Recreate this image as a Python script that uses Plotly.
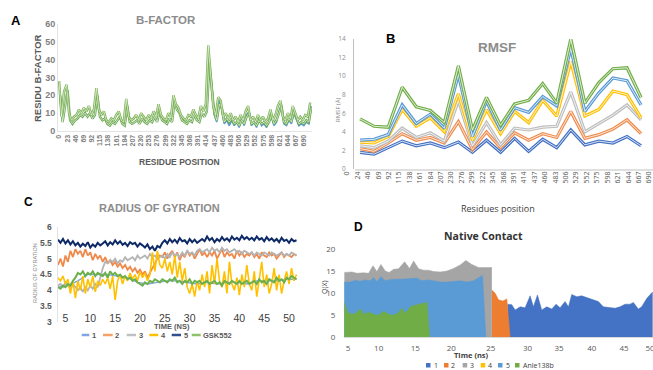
import numpy as np
import plotly.graph_objects as go

W, H = 653, 370
def px(x): return x / W
def py(y): return 1 - y / H

# ---------------- Panel A: B-factor ----------------
bf_res_a = list(range(0, 711, 7))
bf_green_a = [28,8,22,26,10,6,8,9,12,10, 13,11,14,9,12,24,12,9,11,6,
              5,7,6,9,11,6,5,18,8,6, 7,9,6,10,8,6,9,7,11,8,
              15,9,7,6,10,8,20,15,13,9, 7,6,9,8,12,9,7,14,11,15,
              48,30,14,9,19,17,8,10,7,10, 6,8,5,9,6,11,14,6,8,5,
              9,6,8,5,7,12,6,9,14,17, 8,6,10,7,14,10,6,8,6,9, 8,16]
bf_res_b = list(range(3, 711, 7))
bf_green_b = [20,5,14,23,6,4,6,7,9,8, 10,8,10,7,9,20,8,6,7,4,
              3,5,4,6,8,4,3,14,5,4, 5,6,4,7,5,4,6,5,8,5,
              11,6,5,4,7,5,16,12,10,6, 5,4,6,5,9,6,5,10,8,11,
              38,22,10,6,15,13,5,7,5,7, 4,5,3,6,4,8,10,4,5,3,
              6,4,5,3,5,9,4,6,10,14, 5,4,7,5,11,7,4,5,4,6, 5,13]
bf_res_blue = list(range(416, 712, 7))
bf_blue = [12,37,25,9,5,17,12,4,6,3, 6,3,5,2,7,3,9,11,3,5,
           2,7,3,4,2,5,8,3,5,11, 15,4,3,6,4,10,6,3,4,3, 5,4,14]
bf_ticks = list(range(0, 691, 23))

# ---------------- Panel B: RMSF ----------------
rmsf_pos = list(range(21))
rmsf_labels = ["0","24","46","69","92","115","138","161","184","207","230","276",
               "299","322","345","368","391","414","437","460","483","506","529",
               "552","575","598","621","644","667","690"]
rmsf_1 = [1.8,1.6,2.3,3.0,2.5,2.8,2.3,2.9,1.8,3.1,1.8,3.3,1.9,3.2,2.3,4.2,2.6,3.0,2.8,3.5,2.5]
rmsf_2 = [2.2,1.9,2.8,3.8,3.1,3.4,2.8,5.1,2.1,4.0,2.3,3.9,3.1,3.8,3.4,6.2,3.3,3.7,4.3,5.3,3.8]
rmsf_3 = [2.5,2.3,3.0,4.4,3.4,3.9,3.0,7.4,2.5,5.0,2.6,4.4,4.2,4.5,4.6,8.3,4.0,4.9,5.8,6.9,5.3]
rmsf_4 = [2.9,2.8,3.5,6.4,4.6,5.5,4.0,8.1,3.1,6.4,3.8,6.2,5.0,7.4,5.7,11.6,5.7,6.4,8.4,8.0,5.5]
rmsf_5 = [3.1,3.2,3.7,6.9,4.9,5.9,4.4,10.2,3.5,7.3,4.2,6.6,6.1,7.8,6.8,13.0,6.2,8.2,9.8,9.5,6.9]
rmsf_6 = [5.4,4.6,4.5,8.8,6.7,6.3,5.0,11.1,4.2,7.7,4.7,7.0,7.4,9.2,7.1,14.0,7.1,9.3,10.8,10.9,7.7]

# ---------------- Panel C: radius of gyration ----------------
rg_time = list(np.arange(3.5, 51.51, 0.5))
rg_time_1 = list(np.arange(3.5, 51.51, 2.0))
rg_1 = [4.1,4.15,4.3,4.5,4.5,4.5,4.45,4.4,4.25,4.2,4.25,4.3,4.3,4.25,4.2,4.25,4.2,
        4.25,4.25,4.2,4.3,4.3,4.3,4.35,4.35]
rg_2 = [4.8,5.0,4.75,5.1,4.9,5.25,5.05,5.3,
        5.15,5.25,5.05,5.3,5.1,5.2,4.95,5.15,5.0,5.1,
        4.9,5.05,4.85,4.95,4.8,4.9,4.75,4.85,4.7,4.8,4.65,4.75,4.6,4.7,4.55,4.65,
        4.5,4.6,4.4,4.55,4.7,4.9,5.0,5.1,
        5.05,5.2,5.0,5.15,5.25,5.05,5.2,4.95,5.15,5.05,5.25,5.1,5.2,5.0,5.15,5.3,5.1,5.2,
        5.05,5.2,5.1,5.25,5.0,5.15,5.3,5.05,5.2,5.1,5.15,5.0,5.25,5.1,5.2,5.05,5.15,5.1,
        5.2,5.05,5.15,5.0,5.2,5.1,5.05,5.2,5.1,5.15,5.0,5.1,5.2,5.05,5.15,5.1,5.05,5.15,5.1]
rg_3 = [4.15,4.2,4.1,4.25,4.15,4.05,4.2,4.1,
        4.0,4.1,3.95,4.1,4.0,4.15,4.05,4.2,4.1,4.4,
        4.7,4.9,4.85,4.95,4.9,5.0,4.85,4.95,4.9,5.05,4.95,5.0,5.05,4.95,5.1,5.0,
        5.05,5.1,5.0,5.15,5.05,5.1,5.0,5.05,
        5.1,5.0,5.15,5.05,5.2,5.1,5.15,5.05,5.2,5.1,5.25,5.15,5.2,5.1,5.25,5.3,5.2,5.25,
        5.3,5.2,5.35,5.25,5.3,5.2,5.35,5.25,5.3,5.2,5.25,5.3,5.2,5.25,5.15,5.25,5.2,5.15,
        5.2,5.1,5.2,5.15,5.1,5.2,5.15,5.1,5.2,5.15,5.1,5.15,5.2,5.1,5.15,5.1,5.2,5.15,5.1]
rg_4 = [4.4,4.3,4.45,4.2,4.35,3.9,4.3,3.75,
        4.3,4.0,4.45,3.9,4.35,4.1,4.45,3.95,4.3,4.15,
        4.35,4.2,4.4,4.05,4.45,3.7,4.3,4.5,4.2,4.45,4.3,4.55,4.35,4.5,4.3,4.6,
        4.4,4.55,4.3,4.5,5.2,4.6,5.25,4.8,
        4.7,5.0,4.6,4.9,4.5,5.1,4.4,4.9,4.3,4.7,4.1,3.9,4.2,3.8,4.3,4.0,4.5,4.1,
        4.6,3.9,4.8,4.2,5.0,4.3,4.1,4.6,3.9,4.9,4.2,4.0,4.4,3.85,4.5,4.1,4.8,4.2,
        4.0,4.6,3.8,4.4,4.9,4.1,4.5,3.9,4.2,4.7,4.0,4.5,3.9,4.3,4.6,4.2,4.7,4.3,4.5]
rg_5 = [5.6,5.5,5.62,5.48,5.58,5.45,5.55,5.42,
        5.5,5.38,5.47,5.4,5.52,5.35,5.45,5.38,5.5,5.42,
        5.48,5.55,5.42,5.52,5.45,5.58,5.47,5.55,5.44,5.5,5.4,5.52,5.46,5.5,5.38,5.48,
        5.42,5.35,5.45,5.3,5.38,5.25,5.4,5.35,
        5.5,5.58,5.48,5.62,5.52,5.6,5.5,5.65,5.55,5.58,5.48,5.62,5.52,5.6,5.5,5.56,5.62,5.55,
        5.7,5.58,5.65,5.52,5.62,5.55,5.68,5.58,5.64,5.55,5.7,5.6,5.66,5.58,5.72,5.62,5.68,5.6,
        5.66,5.58,5.7,5.6,5.65,5.55,5.68,5.58,5.64,5.55,5.62,5.52,5.66,5.56,5.6,5.5,5.62,5.55,5.58]
rg_gsk = [4.1,4.05,4.15,4.1,4.2,4.15,4.3,4.4,
          4.55,4.5,4.6,4.45,4.55,4.5,4.6,4.45,4.55,4.5,
          4.45,4.55,4.4,4.6,4.5,4.55,4.45,4.5,4.4,4.45,4.35,4.4,4.3,4.35,4.25,4.2,
          4.15,4.25,4.2,4.3,4.25,4.35,4.3,4.25,
          4.35,4.3,4.25,4.35,4.3,4.4,4.25,4.3,4.2,4.3,4.25,4.35,4.2,4.3,4.25,4.3,4.2,4.25,
          4.3,4.2,4.25,4.3,4.2,4.25,4.15,4.3,4.25,4.2,4.3,4.25,4.2,4.3,4.2,4.25,4.3,4.2,
          4.25,4.3,4.2,4.35,4.25,4.3,4.2,4.35,4.3,4.25,4.4,4.3,4.35,4.25,4.4,4.35,4.45,4.4,4.35]
rg_ticks = [5,10,15,20,25,30,35,40,45,50]

# ---------------- Panel D: native contact ----------------
nc_tick_pos = [5.0, 9.57, 15.03, 20.40, 26.31, 31.77, 36.49, 41.36, 46.18, 50.05]
nc_tick_text = ["5","10","15","20","25","30","35","40","45","50"]
nc3_x = [4.45,5.59,6.34,7.33,8.07,8.72,9.31,9.91,10.56,11.15,11.80,12.54,13.44,14.18,14.78,
         15.53,16.27,17.02,17.76,18.76,19.75,20.74,21.74,22.58,23.47,24.47,25.22,26.11,26.46]
nc3_y = [14.7,14.8,14.5,14.6,14.5,16.2,14.9,16.5,15.0,14.7,15.4,15.5,17.1,15.6,17.3,
         15.5,15.2,15.2,14.9,14.8,15.0,15.6,16.4,17.4,16.5,15.8,15.8,15.9,15.8]
nc5_x = [4.45,5.34,6.09,6.83,7.58,8.32,8.82,9.31,9.91,10.56,11.30,12.30,13.30,14.28,15.28,
         16.02,16.77,17.76,18.76,19.75,20.74,21.74,22.73,23.72,24.72,25.07,25.56]
nc5_y = [12.5,12.5,12.9,12.7,13.0,12.8,13.5,12.6,13.7,12.8,13.1,13.1,13.2,13.3,13.4,
         12.8,13.0,12.8,12.5,12.5,12.6,12.8,12.5,12.8,13.7,14.0,0]
ncA_x = [4.45,4.95,5.59,6.09,6.83,7.33,8.07,8.82,9.56,10.31,11.06,11.80,12.55,13.04,13.54,
         14.28,15.28,16.27,16.77,17.17]
ncA_y = [7.9,5.7,5.2,5.4,6.4,5.2,5.7,5.2,5.0,5.9,5.2,5.0,5.6,6.6,5.4,6.9,7.4,7.8,7.9,0]
nc2_x = [26.46,26.95,27.45,28.10,28.69,29.19]
nc2_y = [10.7,10.0,8.5,8.2,8.7,0]
nc1_x = [28.79,29.43,29.93,30.68,31.42,32.17,32.66,33.26,33.90,34.65,35.40,36.04,36.64,37.38,
         37.88,38.37,39.12,39.86,40.61,41.60,42.35,43.09,44.09,44.83,45.58,46.33,47.07,47.57,
         48.31,48.81,49.56,50.05,50.45]
nc1_y = [7.5,7.4,6.2,6.9,6.7,9.4,6.9,9.6,6.2,6.9,6.4,7.5,6.7,8.1,6.9,9.7,9.2,9.4,9.0,8.5,
         8.1,6.9,6.8,6.6,6.9,7.5,7.5,7.9,6.4,6.9,8.8,9.6,10.3]

C_BLUE, C_ORANGE, C_GRAY, C_YELLOW, C_LBLUE, C_GREEN, C_NAVY = (
    "#4472c4", "#ed7d31", "#a5a5a5", "#ffc000", "#5b9bd5", "#70ad47", "#1f3864")

fig = go.Figure()

def line(x, y, color, width, xa, ya):
    fig.add_trace(go.Scatter(x=x, y=y, mode="lines", line=dict(color=color, width=width),
                             xaxis=xa, yaxis=ya, showlegend=False, hoverinfo="skip"))

def dline(x, y, color, wo, wi, xa, ya):
    line(x, y, color, wo, xa, ya)
    line(x, y, "rgba(255,255,255,0.8)", wi, xa, ya)

# A
line(bf_res_blue, bf_blue, C_LBLUE, 1.6, "x", "y")
dline(bf_res_b, bf_green_b, "#6aa84f", 2.4, 0.8, "x", "y")
dline(bf_res_a, bf_green_a, "#78b050", 2.4, 0.8, "x", "y")

# B
for ys, c in [(rmsf_1, C_BLUE), (rmsf_2, "#f08c4e"), (rmsf_3, "#bdbdbd"),
              (rmsf_4, C_YELLOW), (rmsf_5, C_LBLUE), (rmsf_6, C_GREEN)]:
    dline(rmsf_pos, ys, c, 3.2, 1.0, "x2", "y2")

# C
line(rg_time_1, rg_1, "#7ea6e0", 1.4, "x3", "y3")
line(rg_time, rg_2, "#f0884a", 1.8, "x3", "y3")
line(rg_time, rg_3, "#b4b4b4", 1.8, "x3", "y3")
line(rg_time, rg_4, C_YELLOW, 1.6, "x3", "y3")
line(rg_time, rg_5, "#0d2a66", 2.0, "x3", "y3")
line(rg_time, rg_gsk, "#6cb04a", 2.0, "x3", "y3")

# D
def area(x, y, color):
    fig.add_trace(go.Scatter(x=x, y=y, mode="lines", fill="tozeroy", fillcolor=color,
                             line=dict(color=color, width=0.5), xaxis="x4", yaxis="y4",
                             showlegend=False, hoverinfo="skip"))
area(nc1_x, nc1_y, C_BLUE)
area(nc2_x, nc2_y, C_ORANGE)
area(nc3_x, nc3_y, C_GRAY)
area(nc5_x, nc5_y, C_LBLUE)
area(ncA_x, ncA_y, C_GREEN)

SANS = "Liberation Sans"
SOFT = "Open Sans"

def f(size, color, bold=False, family=SANS):
    d = dict(family=family, size=size, color=color)
    if bold:
        d["weight"] = "bold"
    return d

base_ax = dict(showgrid=False, zeroline=False, ticks="", automargin=False)

fig.update_layout(
    width=W, height=H, margin=dict(l=0, r=0, t=0, b=0, pad=0, autoexpand=False),
    paper_bgcolor="white", plot_bgcolor="rgba(0,0,0,0)", showlegend=False,
    xaxis=dict(base_ax, domain=[px(58), px(312)], range=[-3, 712], anchor="y",
               tickvals=bf_ticks, tickangle=-90, tickfont=f(7, "#7f7f7f", True),
               showline=True, linecolor="#e3e3e3"),
    yaxis=dict(base_ax, domain=[py(131), py(24)], range=[0, 60], dtick=10, anchor="x",
               tickfont=f(9, "#7f7f7f", True), showline=True, linecolor="#e3e3e3"),
    xaxis2=dict(base_ax, domain=[px(345), 1], range=[-1.07, 20.85], anchor="y2",
                tickvals=list(np.linspace(-0.925, 20.57, 30)), ticktext=rmsf_labels,
                tickangle=-90, tickfont=f(7, "#595959", family=SOFT), showline=False,
                ticklabeloverflow="allow"),
    yaxis2=dict(base_ax, domain=[py(169), py(39)], range=[0, 14], dtick=2, anchor="free",
                position=px(353), tickfont=f(6.5, "#8c8c8c", family=SOFT), showline=True,
                linecolor="#bfbfbf", ticks="outside", ticklen=6, tickcolor="rgba(0,0,0,0)"),
    xaxis3=dict(base_ax, domain=[px(57.5), px(298)], range=[3.4, 51.8], anchor="free",
                position=py(310), tickvals=rg_ticks, tickfont=f(10.5, "#404040"),
                showline=False),
    yaxis3=dict(base_ax, domain=[py(322), py(227)], range=[3, 6], dtick=0.5, anchor="x3",
                tickfont=f(8.5, "#595959", True), showline=True, linecolor="#e3e3e3",
                ticks="outside", ticklen=3, tickcolor="rgba(0,0,0,0)"),
    xaxis4=dict(base_ax, domain=[px(344), 1], range=[4.4, 50.5], anchor="y4",
                tickvals=nc_tick_pos, ticktext=nc_tick_text, tickfont=f(8, "#595959", family=SOFT),
                showline=True, linecolor="#d9d9d9", ticks="outside", ticklen=3,
                tickcolor="rgba(0,0,0,0)", ticklabeloverflow="allow"),
    yaxis4=dict(base_ax, domain=[py(337.3), py(249)], range=[0, 20], dtick=5, anchor="x4",
                tickfont=f(8, "#595959", family=SOFT), showline=False,
                ticks="outside", ticklen=6, tickcolor="rgba(0,0,0,0)"),
)

ann = []
def text(x, y, s, font, angle=0, xanchor="center"):
    ann.append(dict(x=px(x), y=py(y), xref="paper", yref="paper", text=s, showarrow=False,
                    font=font, textangle=angle, xanchor=xanchor, yanchor="middle", borderpad=0))

# Panel A texts
text(16, 21, "A", f(13, "black", True))
text(166, 20, "B-FACTOR", f(11.5, "#8c8c8c", True))
text(37, 78, "RESIDU B-FACTOR", f(9.5, "#595959", True), angle=-90)
text(179, 162, "RESIDUE POSITION", f(8.5, "#595959", True))
# Panel B texts
text(390, 38, "B", f(13, "black", True))
text(497, 47, "RMSF", f(13.5, "#8c8c8c", True))
text(338, 110, "RMSF (Å)", f(6, "#7f7f7f", family=SOFT), angle=-90)
text(498, 208, "Residues position", f(9, "#404040", family=SOFT))
# Panel C texts
text(28, 202, "C", f(12, "black", True))
text(159, 208, "RADIUS OF GYRATION", f(11, "#8c8c8c", True))
text(35, 273, "RADIUS OF GYRATION", f(5.5, "#8c8c8c"), angle=-90)
text(172, 326.5, "TIME (NS)", f(7.5, "#595959", True))
# Panel D texts
text(358, 227, "D", f(12, "black", True))
text(483, 236, "Native Contact", f(10.5, "#333333", True, family=SOFT))
text(324, 287, "Q(X)", f(7, "#404040", family=SOFT), angle=-90)
text(472, 355, "Time (ns)", f(7.5, "#404040", True, family=SOFT))

shapes = []
# B x-axis baseline
shapes.append(dict(type="line", xref="paper", yref="paper", x0=px(355), x1=1, y0=py(170),
                   y1=py(170), line=dict(color="#bfbfbf", width=1)))

# Legend C
leg_c = [("1", "#7ea6e0", 81.7, 89.3), ("2", "#f4a26b", 103, 112.7), ("3", "#c0c0c0", 126.7, 136),
         ("4", C_YELLOW, 149.3, 158.3), ("5", "#2f4f8f", 171.7, 181), ("GSK552", "#8cc36a", 191.7, 200.7)]
for lab, c, x0, x1 in leg_c:
    shapes.append(dict(type="line", xref="paper", yref="paper", x0=px(x0), x1=px(x1),
                       y0=py(335), y1=py(335), line=dict(color=c, width=2.5)))
    text(x1 + 1.5, 335, lab, f(7.5, "#595959", True), xanchor="left")

# Legend D
leg_d = [("1", C_BLUE, 426), ("2", C_ORANGE, 444), ("3", C_GRAY, 462.7), ("4", C_YELLOW, 480.7),
         ("5", C_LBLUE, 498), ("Anle138b", C_GREEN, 515)]
for lab, c, x0 in leg_d:
    shapes.append(dict(type="rect", xref="paper", yref="paper", x0=px(x0), x1=px(x0 + 4.5),
                       y0=py(367.5), y1=py(363), line=dict(width=0), fillcolor=c))
    text(x0 + 6.5, 365.3, lab, f(7, "#404040", family=SOFT), xanchor="left")

fig.update_layout(annotations=ann, shapes=shapes)
fig.write_html("out.html", config={"displayModeBar": False},
               post_script="document.body.style.margin='0';document.body.style.padding='0';")
